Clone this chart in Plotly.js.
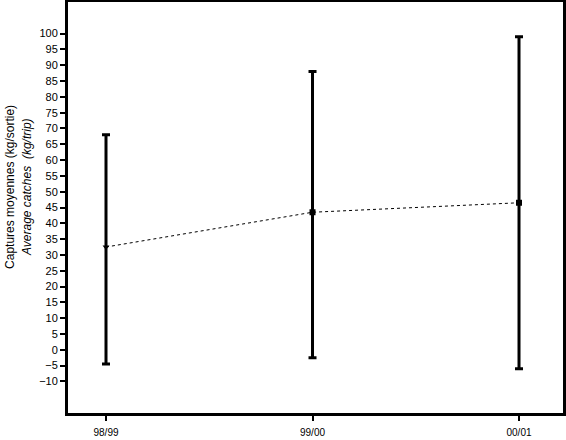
<!DOCTYPE html>
<html>
<head>
<meta charset="utf-8">
<script src="https://cdn.plot.ly/plotly-3.0.1.min.js"></script>
<style>html,body{margin:0;padding:0;background:#fff;}#chart{width:566px;height:440px;}</style>
</head>
<body>
<div id="chart"></div>
<script>
const seasons = ["98/99", "99/00", "00/01"];
const means = [32.5, 43.5, 46.5];
const upper = [68, 88, 99];
const lower = [-4.5, -2.5, -6];
const yTicks = [-10,-5,0,5,10,15,20,25,30,35,40,45,50,55,60,65,70,75,80,85,90,95,100];

const xIdx = seasons.map((s, i) => i);
const trace = {
  x: xIdx,
  y: means,
  type: "scatter",
  mode: "lines+markers",
  line: {color: "#000", width: 1, dash: "dot"},
  marker: {color: "#000", size: 6, symbol: ["triangle-down", "square", "square"]},
  error_y: {
    type: "data",
    symmetric: false,
    array: upper.map((u, i) => u - means[i]),
    arrayminus: means.map((m, i) => m - lower[i]),
    color: "#000",
    thickness: 3,
    width: 4
  },
  hoverinfo: "none"
};

const layout = {
  width: 566, height: 440,
  margin: {l: 68, r: 3, t: 2, b: 27},
  paper_bgcolor: "#fff", plot_bgcolor: "#fff",
  showlegend: false,
  font: {family: "Liberation Sans, Arial, sans-serif", size: 11, color: "#000"},
  xaxis: {
    range: [-0.184, 2.213],
    tickvals: xIdx, ticktext: seasons,
    ticks: "outside", ticklen: 5, tickwidth: 2, tickcolor: "#000",
    showline: true, linewidth: 3, linecolor: "#000", mirror: true,
    showgrid: false, zeroline: false,
    tickfont: {size: 10},
    ticklabelstandoff: 3
  },
  yaxis: {
    range: [-20, 110],
    tickvals: yTicks,
    ticks: "outside", ticklen: 5, tickwidth: 2, tickcolor: "#000",
    showline: true, linewidth: 3, linecolor: "#000", mirror: true,
    showgrid: false, zeroline: false,
    tickfont: {size: 11}
  },
  annotations: [
    {text: "Captures moyennes (kg/sortie)", xref: "paper", yref: "paper", x: 0, y: 0.55,
     xanchor: "center", yanchor: "middle", xshift: -58, textangle: -90, showarrow: false,
     font: {size: 12}},
    {text: "<i>Average catches  (kg/trip)</i>", xref: "paper", yref: "paper", x: 0, y: 0.55,
     xanchor: "center", yanchor: "middle", xshift: -41, textangle: -90, showarrow: false,
     font: {size: 12}}
  ]
};

Plotly.newPlot("chart", [trace], layout, {displayModeBar: false, staticPlot: true});
</script>
</body>
</html>
